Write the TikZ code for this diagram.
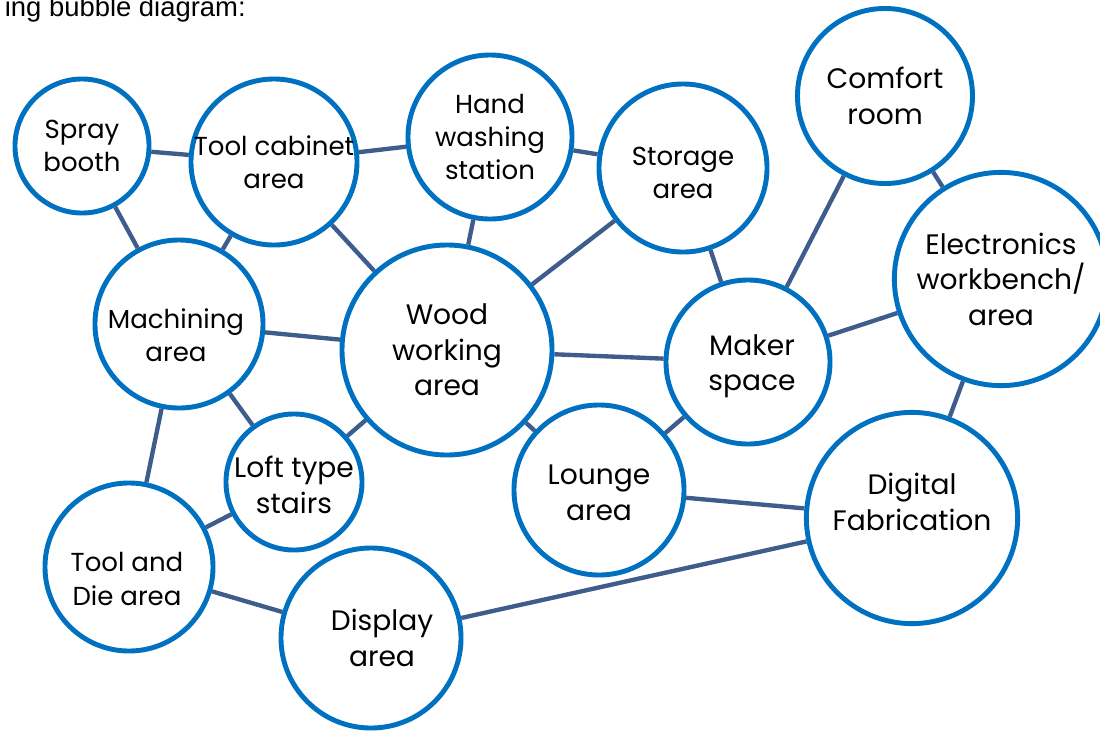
\documentclass[tikz,border=0pt]{standalone}
\usepackage{fontspec}
\setmainfont{Poppins}
\newfontfamily\titlefont{Liberation Sans}
\definecolor{ringblue}{RGB}{0,112,192}
\definecolor{linkblue}{RGB}{62,92,140}

\begin{document}
\begin{tikzpicture}
  [x=0.025cm,y=-0.025cm,
   bubble/.style={circle,draw=ringblue,line width=3.5pt,fill=white,inner sep=0pt},
   txt/.style={align=center,inner sep=0pt,font=\fontsize{18.5}{23.5}\selectfont},
   bigtxt/.style={align=center,inner sep=0pt,font=\fontsize{20}{25.2}\selectfont},
   link/.style={draw=linkblue,line width=3.1pt}]
  \useasboundingbox (0,0) rectangle (1100,731);

  \node[anchor=base east,inner sep=0pt,font=\titlefont\fontsize{19.5}{23}\selectfont] (title) at (246,16) {ing bubble diagram:};

  % bubbles, text set as a centred label (shifted where the text sits off-centre)
  \node[bubble,minimum size=3.35cm,label={[txt]center:{Spray\\booth}}] (spray) at (82,146) {};
  \node[bubble,minimum size=4.15cm,label={[txt]center:{Tool cabinet\\area}}] (toolcab) at (274,162) {};
  \node[bubble,minimum size=4.1cm,label={[txt]center:{Hand\\washing\\station}}] (hand) at (490,137) {};
  \node[bubble,minimum size=4.2cm,label={[txt,yshift=-0.125cm]center:{Storage\\area}}] (storage) at (683,168) {};
  \node[bubble,minimum size=4.375cm,label={[bigtxt]center:{Comfort\\room}}] (comfort) at (885,96) {};
  \node[bubble,minimum size=5.33cm,label={[bigtxt]center:{Electronics\\workbench/\\area}}] (electronics) at (1001,279) {};
  \node[bubble,minimum size=4.2cm,label={[txt,xshift=-0.075cm,yshift=-0.275cm]center:{Machining\\area}}] (machining) at (179,324) {};
  \node[bubble,minimum size=5.25cm,label={[bigtxt]center:{Wood\\working\\area}}] (wood) at (447,350) {};
  \node[bubble,minimum size=4.1cm,label={[bigtxt,xshift=0.1cm,yshift=-0.1cm]center:{Maker\\space}}] (maker) at (748,362) {};
  \node[bubble,minimum size=3.4cm,label={[bigtxt,yshift=-0.075cm]center:{Loft type\\stairs}}] (loft) at (294,482) {};
  \node[bubble,minimum size=4.25cm,label={[bigtxt,yshift=-0.075cm]center:{Lounge\\area}}] (lounge) at (599,490) {};
  \node[bubble,minimum size=5.28cm,label={[bigtxt,yshift=0.4cm]center:{Digital\\Fabrication}}] (digfab) at (912,518) {};
  \node[bubble,minimum size=4.2cm,label={[txt,xshift=-0.05cm,yshift=-0.3cm]center:{Tool and\\Die area}}] (tooldie) at (129,567) {};
  \node[bubble,minimum size=4.5cm,label={[bigtxt,xshift=0.275cm]center:{Display\\area}}] (display) at (371,638) {};

  \foreach \from/\to in {spray/toolcab,spray/machining,toolcab/hand,toolcab/machining,toolcab/wood,
    hand/storage,hand/wood,storage/wood,storage/maker,comfort/maker,comfort/electronics,
    electronics/maker,electronics/digfab,machining/wood,machining/loft,machining/tooldie,
    wood/maker,wood/loft,wood/lounge,maker/lounge,lounge/digfab,loft/tooldie,tooldie/display,display/digfab}
    \draw[link] (\from) -- (\to);

\end{tikzpicture}
\end{document}
